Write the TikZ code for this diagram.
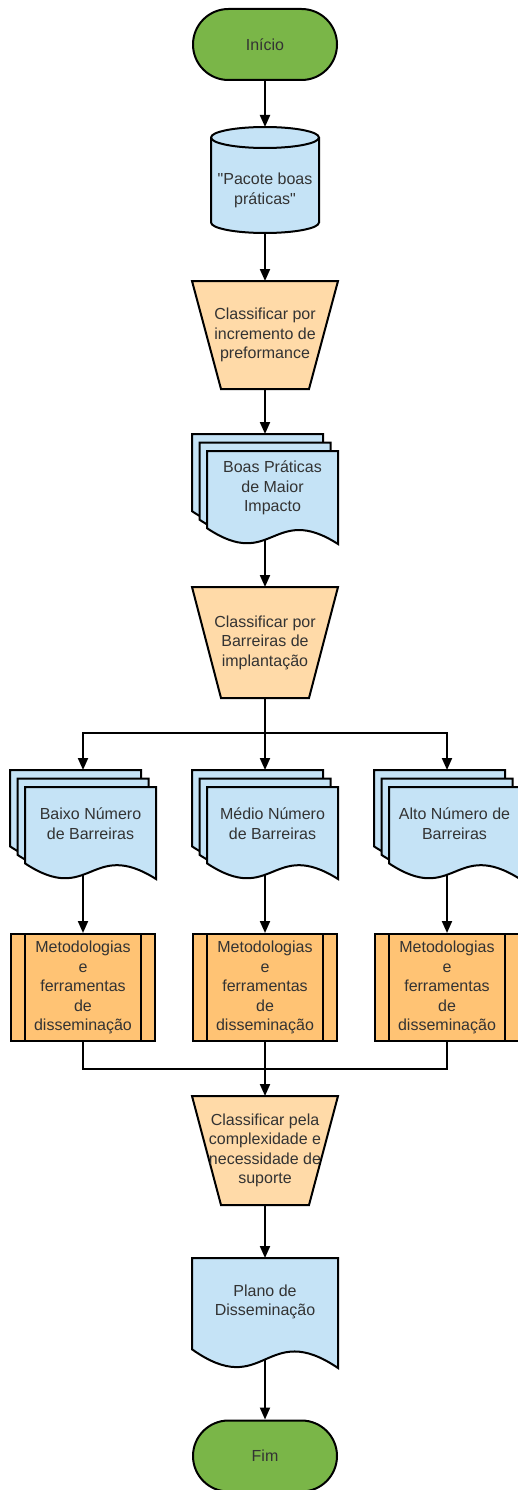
\documentclass[tikz,border=0pt]{standalone}
\usepackage{fontspec}
\setmainfont{Liberation Sans}[Ligatures=TeXOff]
\usetikzlibrary{arrows.meta,backgrounds,calc}
\definecolor{termgreen}{HTML}{7AB648}
\definecolor{docblue}{HTML}{C5E3F6}
\definecolor{trapor}{HTML}{FFDAA8}
\definecolor{procor}{HTML}{FFC374}
\definecolor{txtgray}{HTML}{333333}
\tikzset{
  every node/.style={font=\fontsize{16}{19.5}\selectfont, text=txtgray, align=center},
  box/.style={draw=none, inner sep=0pt, outer sep=0pt},
  outline/.style={draw=black, line width=2pt, line join=miter},
  term/.style={rectangle, draw=black, line width=2pt, fill=termgreen, rounded corners=35.5pt,
    minimum width=144pt, minimum height=71pt, inner sep=0pt},
  proc/.style={rectangle, draw=black, line width=2pt, fill=procor,
    minimum width=144pt, minimum height=107pt, inner sep=0pt},
  conn/.style={draw=black, line width=2pt},
  flow/.style={conn, -{Triangle[length=12pt,width=10pt]}},
}
\newcommand{\docsheet}[4]{%
  \begin{scope}[shift={(#1,#2)},xscale=#3,yscale=#4]
    \filldraw[outline,fill=docblue] (0,0) -- (1,0) -- (1,1)
      .. controls (0.5,0.55) and (0.5,1.3) .. (0,0.83) -- cycle;
  \end{scope}}
\newcommand{\multidoc}[4]{% back-left x, back-top y, w, h
  \docsheet{#1}{#2}{#3}{#4}%
  \docsheet{#1+7.5}{#2+8.5}{#3}{#4}%
  \docsheet{#1+15}{#2+17}{#3}{#4}}
\newcommand{\trapshape}[1]{%
  \filldraw[outline,fill=trapor] (#1.north west) -- (#1.north east)
    -- ($(#1.south east)+(-29,0)$) -- ($(#1.south west)+(29,0)$) -- cycle;}
\begin{document}
\begin{tikzpicture}[x=1pt,y=-1pt]
\useasboundingbox (0,0) rectangle (518,1490);

% ---------- nodes ----------
\node[term] (inicio) at (265,44.5) {Início};

\coordinate (cyltop) at (265,127);
\node[box, minimum width=108pt, minimum height=85pt] (cyl) at (265,190.5) {"Pacote boas\\práticas"};

\node[box, minimum width=146pt, minimum height=108pt] (t1) at (265,335) {Classificar por\\incremento de\\preformance};

\coordinate (mdin) at (265,434);
\node[box, minimum width=131pt, minimum height=74pt] (md) at (272.5,488) {Boas Práticas\\de Maior\\Impacto};
\coordinate (mdout) at (265,539.5);

\node[box, minimum width=146pt, minimum height=111pt] (t2) at (265,642.5) {Classificar por\\Barreiras de\\implantação};

\coordinate (br) at (265,733);

\coordinate (ain) at (83,770);
\coordinate (bin) at (265,770);
\coordinate (cin) at (447,770);
\node[box, minimum width=131pt, minimum height=74pt] (da) at (90.5,823.5) {Baixo Número\\de Barreiras};
\node[box, minimum width=131pt, minimum height=74pt] (db) at (272.5,823.5) {Médio Número\\de Barreiras};
\node[box, minimum width=131pt, minimum height=74pt] (dc) at (454.5,823.5) {Alto Número de\\Barreiras};
\coordinate (aout) at (83,874.5);
\coordinate (bout) at (265,874.5);
\coordinate (cout) at (447,874.5);

\node[proc] (pa) at (83,987.5) {Metodologias\\e\\ferramentas\\de\\disseminação};
\node[proc] (pb) at (265,987.5) {Metodologias\\e\\ferramentas\\de\\disseminação};
\node[proc] (pc) at (447,987.5) {Metodologias\\e\\ferramentas\\de\\disseminação};
\foreach \p in {pa,pb,pc}{
  \draw[outline] ($(\p.north west)+(15,0)$) -- ($(\p.south west)+(15,0)$);
  \draw[outline] ($(\p.north east)+(-15,0)$) -- ($(\p.south east)+(-15,0)$);
}

\coordinate (mrg) at (265,1069);

\node[box, minimum width=146pt, minimum height=109pt] (t3) at (265,1150.5) {Classificar pela\\complexidade e\\necessidade de\\suporte};

\node[box, minimum width=146pt, minimum height=88pt] (pl) at (265,1302) {Plano de\\Disseminação};
\coordinate (plout) at (265,1359);

\node[term] (fim) at (265,1456) {Fim};

% ---------- shapes behind text ----------
\begin{scope}[on background layer]
  % cylinder
  \filldraw[outline,fill=docblue] (211,137.5) -- (211,222.5)
    arc[start angle=180,end angle=0,x radius=54,y radius=10.5]
    -- (319,137.5)
    arc[start angle=0,end angle=-180,x radius=54,y radius=10.5] -- cycle;
  \draw[outline] (211,137.5) arc[start angle=180,end angle=0,x radius=54,y radius=10.5];
  % trapezoids
  \trapshape{t1}
  \trapshape{t2}
  \trapshape{t3}
  % multi documents
  \multidoc{192}{434}{131}{93}
  \multidoc{10}{770}{131}{92}
  \multidoc{192}{770}{131}{92}
  \multidoc{374}{770}{131}{92}
  % single document
  \docsheet{192}{1258}{146}{110}
\end{scope}

% ---------- connectors ----------
\draw[flow] (inicio.south) -- (cyltop);
\draw[flow] (cyl.south) -- (t1.north);
\draw[flow] (t1.south) -- (mdin);
\draw[flow] (mdout) -- (t2.north);
\draw[conn] (t2.south) -- (br);
\draw[flow] (br) -| (ain);
\draw[flow] (br) -- (bin);
\draw[flow] (br) -| (cin);
\draw[flow] (aout) -- (pa.north);
\draw[flow] (bout) -- (pb.north);
\draw[flow] (cout) -- (pc.north);
\draw[conn] (pa.south) |- (mrg);
\draw[conn] (pc.south) |- (mrg);
\draw[flow] (pb.south) -- (t3.north);
\draw[flow] (t3.south) -- (pl.north);
\draw[flow] (plout) -- (fim.north);
\end{tikzpicture}
\end{document}
